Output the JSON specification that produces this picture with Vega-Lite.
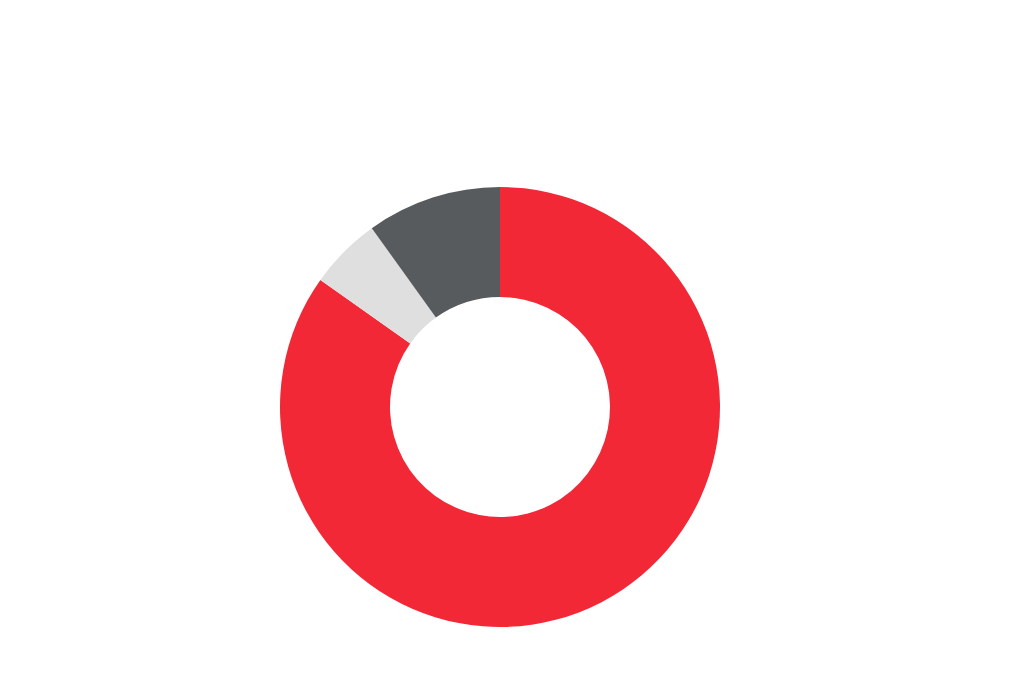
{
  "$schema": "https://vega.github.io/schema/vega-lite/v6.json",
  "description": "Donut chart with three segments",
  "width": 440,
  "height": 440,
  "padding": {"left": 280, "top": 187, "right": 0, "bottom": 0},
  "autosize": {"type": "none"},
  "background": "white",
  "view": {"stroke": null},
  "data": {
    "values": [
      {"segment": "A", "share": 84.8, "rank": 1},
      {"segment": "B", "share": 5.3, "rank": 2},
      {"segment": "C", "share": 9.9, "rank": 3}
    ]
  },
  "mark": {"type": "arc", "innerRadius": 110, "outerRadius": 220},
  "encoding": {
    "theta": {"field": "share", "type": "quantitative", "stack": true},
    "order": {"field": "rank", "type": "quantitative"},
    "color": {
      "field": "segment",
      "type": "nominal",
      "scale": {"domain": ["A", "B", "C"], "range": ["#F22837", "#DFDFDF", "#585B5E"]},
      "legend": null
    }
  }
}
